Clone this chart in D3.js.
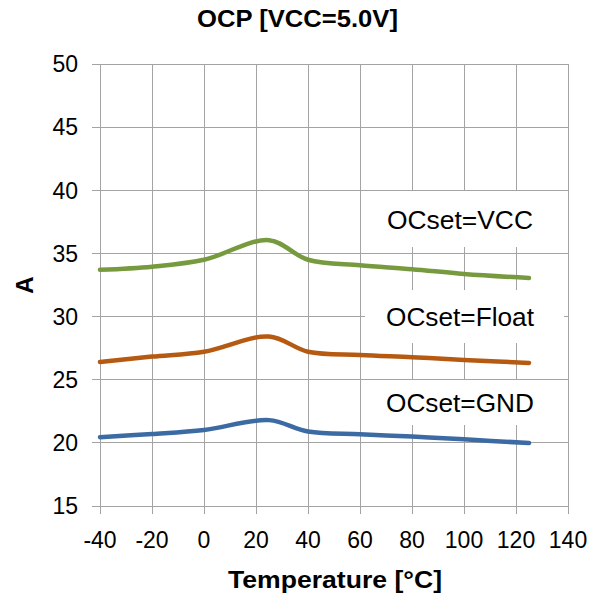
<!DOCTYPE html>
<html>
<head>
<meta charset="utf-8">
<script src="https://cdn.jsdelivr.net/npm/d3@7"></script>
<style>
  html, body { margin: 0; padding: 0; background: #fff; }
  svg { display: block; }
  text { font-family: "Liberation Sans", Arial, sans-serif; fill: #000; }
</style>
</head>
<body>
<svg id="chart" width="603" height="596"></svg>
<script>
// ---- data ----
const temperatures = [-40, -20, 0, 25, 40, 60, 80, 100, 125];
const ocsetVCC   = [33.7, 33.95, 34.5, 36.05, 34.5, 34.06, 33.75, 33.37, 33.05];
const ocsetFloat = [26.4, 26.83, 27.22, 28.42, 27.22, 26.96, 26.78, 26.57, 26.33];
const ocsetGND   = [20.45, 20.7, 21.02, 21.8, 20.9, 20.68, 20.5, 20.28, 19.98];
const seriesNames = ["OCset=VCC", "OCset=Float", "OCset=GND"];
const xTicks = [-40, -20, 0, 20, 40, 60, 80, 100, 120, 140];
const yTicks = [15, 20, 25, 30, 35, 40, 45, 50];
const titleText = "OCP [VCC=5.0V]";
const xTitle = "Temperature [°C]";
const yTitle = "A";

// ---- layout ----
const svg = d3.select("#chart");
const x = d3.scaleLinear().domain([-40, 140]).range([100, 568]);
const y = d3.scaleLinear().domain([15, 50]).range([506, 64]);
const gridColor = "#a3a3a3";
const colors = ["#789a3f", "#b65a12", "#3c6ba4"];

// grid
const g = svg.append("g");
g.selectAll("line.v").data(xTicks).enter().append("line")
  .attr("x1", d => x(d)).attr("x2", d => x(d))
  .attr("y1", y(50)).attr("y2", y(15) + 8)
  .attr("stroke", gridColor).attr("stroke-width", 1).attr("shape-rendering", "crispEdges");
g.selectAll("line.h").data(yTicks).enter().append("line")
  .attr("x1", x(-40) - 8).attr("x2", x(140))
  .attr("y1", d => y(d)).attr("y2", d => y(d))
  .attr("stroke", gridColor).attr("stroke-width", 1).attr("shape-rendering", "crispEdges");

// tick labels
g.selectAll("text.xt").data(xTicks).enter().append("text")
  .attr("x", d => x(d)).attr("y", 548)
  .attr("text-anchor", "middle").attr("font-size", 23)
  .text(d => d);
g.selectAll("text.yt").data(yTicks).enter().append("text")
  .attr("x", 78).attr("y", d => y(d) + 8.3)
  .attr("text-anchor", "end").attr("font-size", 23)
  .text(d => d);

// label boxes
const labelBoxes = [
  {top: 191, bottom: 247, w: 146},
  {top: 290, bottom: 343, w: 148},
  {top: 380, bottom: 425, w: 148}
];
labelBoxes.forEach((b, i) => {
  svg.append("rect").attr("x", 365).attr("y", b.top)
    .attr("width", 199).attr("height", b.bottom - b.top).attr("fill", "#fff");
  svg.append("text").attr("x", 460).attr("y", (b.top + b.bottom) / 2 + 9.5)
    .attr("text-anchor", "middle").attr("font-size", 26)
    .attr("textLength", b.w).attr("lengthAdjust", "spacingAndGlyphs")
    .text(seriesNames[i]);
});

// lines
const line = d3.line()
  .x(d => x(d[0])).y(d => y(d[1]))
  .curve(d3.curveCatmullRom.alpha(0.5));
[ocsetVCC, ocsetFloat, ocsetGND].forEach((vals, i) => {
  svg.append("path")
    .datum(temperatures.map((t, j) => [t, vals[j]]))
    .attr("d", line)
    .attr("fill", "none")
    .attr("stroke", colors[i])
    .attr("stroke-width", 4.5)
    .attr("stroke-linecap", "round")
    .attr("stroke-linejoin", "round");
});

// titles
svg.append("text").attr("x", 297.5).attr("y", 27)
  .attr("text-anchor", "middle").attr("font-size", 24).attr("font-weight", "bold")
  .attr("textLength", 201).attr("lengthAdjust", "spacingAndGlyphs")
  .text(titleText);
svg.append("text").attr("x", 335).attr("y", 588)
  .attr("text-anchor", "middle").attr("font-size", 24.5).attr("font-weight", "bold")
  .attr("textLength", 214).attr("lengthAdjust", "spacingAndGlyphs")
  .text(xTitle);
svg.append("text").attr("transform", "translate(33,285) rotate(-90)")
  .attr("text-anchor", "middle").attr("font-size", 24).attr("font-weight", "bold")
  .text(yTitle);
</script>
</body>
</html>
